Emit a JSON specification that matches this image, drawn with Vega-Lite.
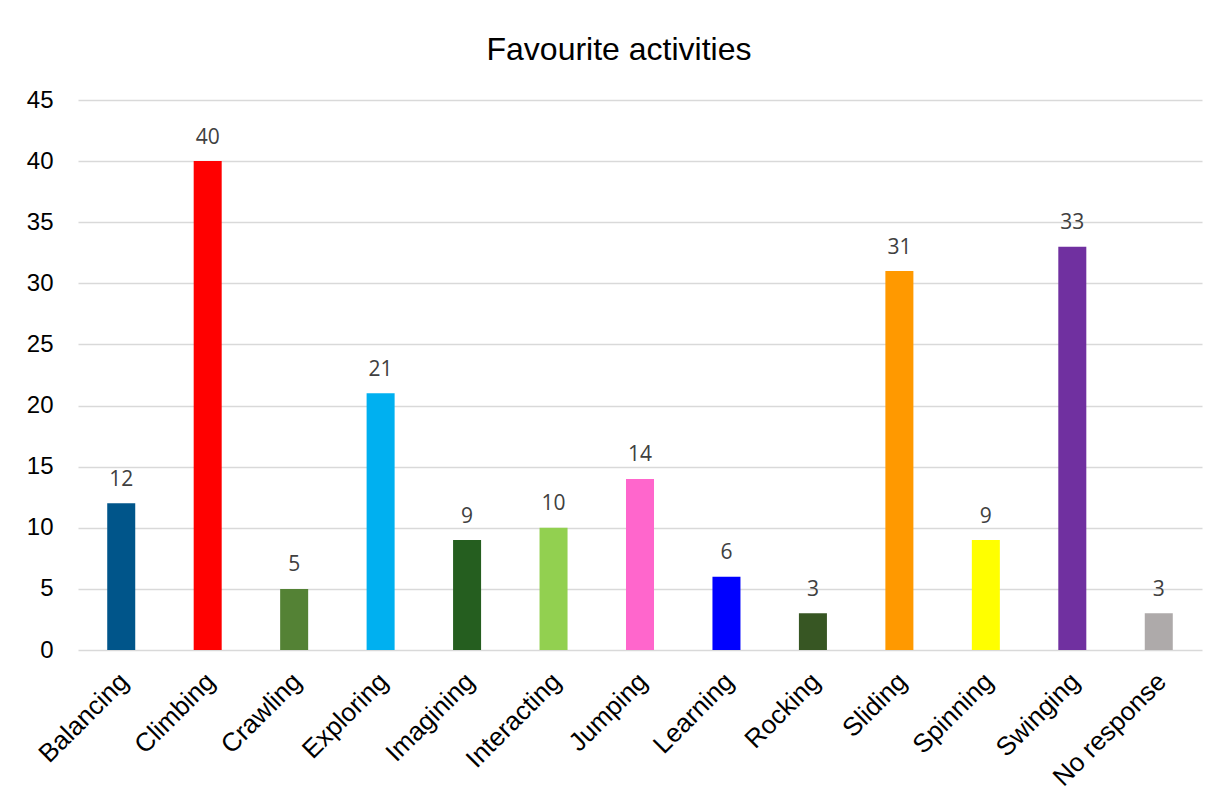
{
  "$schema": "https://vega.github.io/schema/vega-lite/v6.json",
  "autosize": {"type": "none"},
  "width": 1124,
  "height": 550,
  "padding": {"left": 78, "top": 100, "right": 17, "bottom": 155},
  "background": "white",
  "title": {
    "text": "Favourite activities",
    "font": "Liberation Sans",
    "fontSize": 32,
    "fontWeight": "normal",
    "color": "#000000",
    "anchor": "middle",
    "frame": "group",
    "baseline": "alphabetic",
    "dx": -21,
    "offset": -4
  },
  "data": {
    "values": [
      {"activity": "Balancing", "count": 12, "color": "#00558A"},
      {"activity": "Climbing", "count": 40, "color": "#FF0000"},
      {"activity": "Crawling", "count": 5, "color": "#548235"},
      {"activity": "Exploring", "count": 21, "color": "#00B0F0"},
      {"activity": "Imagining", "count": 9, "color": "#255E1F"},
      {"activity": "Interacting", "count": 10, "color": "#92D050"},
      {"activity": "Jumping", "count": 14, "color": "#FF66CC"},
      {"activity": "Learning", "count": 6, "color": "#0000FF"},
      {"activity": "Rocking", "count": 3, "color": "#375623"},
      {"activity": "Sliding", "count": 31, "color": "#FF9900"},
      {"activity": "Spinning", "count": 9, "color": "#FFFF00"},
      {"activity": "Swinging", "count": 33, "color": "#7030A0"},
      {"activity": "No response", "count": 3, "color": "#AEAAAA"}
    ]
  },
  "encoding": {
    "x": {
      "field": "activity",
      "type": "nominal",
      "sort": null,
      "scale": {"paddingInner": 0.676, "paddingOuter": 0.338},
      "axis": {
        "title": null,
        "labelAngle": -45,
        "labelFont": "Liberation Sans",
        "labelFontSize": 26,
        "labelColor": "#000000",
        "labelPadding": 18,
        "labelOffset": -6,
        "ticks": false,
        "domain": false,
        "grid": false
      }
    },
    "y": {
      "field": "count",
      "type": "quantitative",
      "scale": {"domain": [0, 45]},
      "axis": {
        "title": null,
        "values": [0, 5, 10, 15, 20, 25, 30, 35, 40, 45],
        "labelFont": "Liberation Sans",
        "labelFontSize": 24,
        "labelColor": "#000000",
        "labelPadding": 25,
        "ticks": false,
        "domain": false,
        "gridColor": "#D9D9D9",
        "gridWidth": 1.5
      }
    }
  },
  "layer": [
    {
      "mark": {"type": "bar"},
      "encoding": {
        "color": {"field": "color", "type": "nominal", "scale": null}
      }
    },
    {
      "mark": {
        "type": "text",
        "baseline": "alphabetic",
        "dy": -17.5,
        "font": "Open Sans",
        "fontSize": 21,
        "color": "#404040"
      },
      "encoding": {
        "text": {"field": "count", "type": "quantitative"}
      }
    }
  ],
  "config": {
    "view": {"stroke": null}
  }
}
